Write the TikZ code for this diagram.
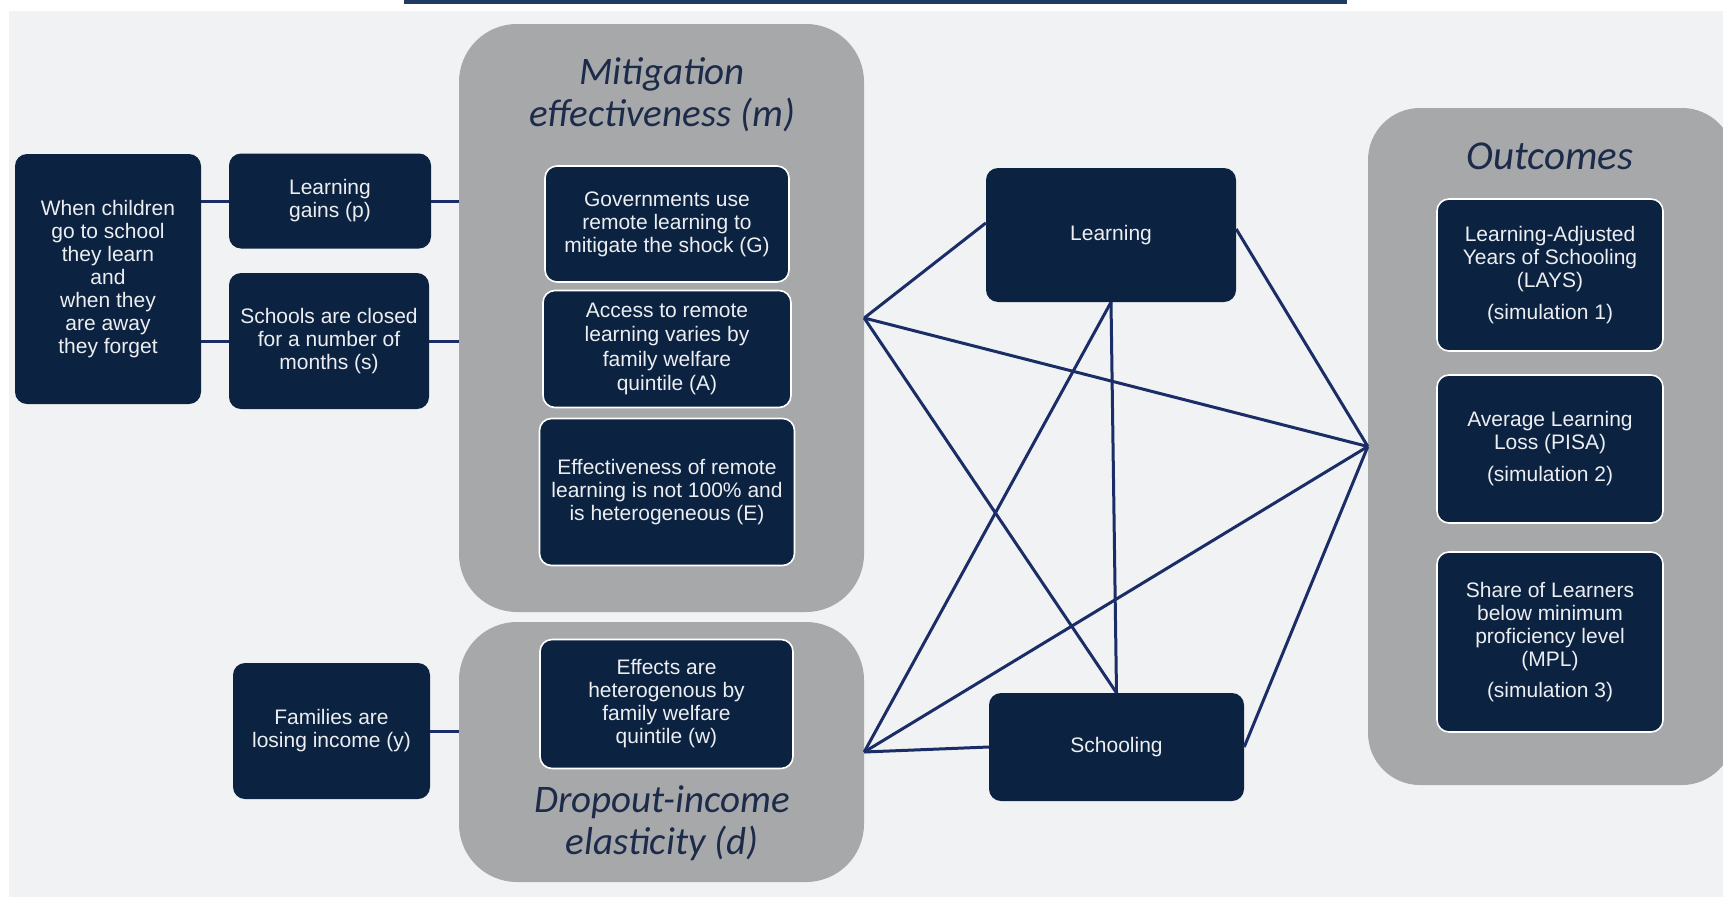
\documentclass[tikz,border=0pt]{standalone}
\usepackage{fontspec}
\setmainfont{Liberation Sans}
\newfontfamily\titlefont{Carlito}
\usepackage{tikz}
\usepackage{xcolor}
\tikzset{>=latex}
\usetikzlibrary{calc}

\definecolor{bgpanel}{HTML}{F1F2F4}
\definecolor{panelgrey}{HTML}{A7A8AA}
\definecolor{boxnavy}{HTML}{0B2240}
\definecolor{linknavy}{HTML}{1B2D66}
\definecolor{titlenavy}{HTML}{1C2B4A}
\definecolor{topbar}{HTML}{1F3A66}
\definecolor{boxtext}{HTML}{ECEEF2}

\tikzset{
  navybox/.style={fill=boxnavy, rounded corners=12pt, inner sep=0pt,
    text=boxtext, align=center, font=\fontsize{21}{23}\selectfont},
  inbox/.style={navybox, draw=white, line width=1.6pt},
  panel/.style={fill=panelgrey, rounded corners=58pt, inner sep=0pt},
  paneltitle/.style={text=titlenavy, align=center, inner sep=0pt,
    font=\titlefont\itshape\fontsize{39}{42}\selectfont},
  link/.style={draw=linknavy, line width=3pt}
}

\begin{document}
\begin{tikzpicture}[x=1pt, y=-1pt]
  \useasboundingbox (0, 0) rectangle (1723, 910);
  \clip (0, 0) rectangle (1723, 910);
  \fill[white] (0, 0) rectangle (1723, 910);
  \fill[bgpanel] (9, 11) rectangle (1723, 897);
  \fill[topbar] (404, 0) rectangle (1347, 4);

  % grey panels
  \node[panel, minimum width=405, minimum height=588] (mit) at (661.5, 318) {};
  \node[panel, minimum width=405, minimum height=260] (drop) at (661.5, 752) {};
  \node[panel, rounded corners=52pt, minimum width=366, minimum height=677] (out) at (1551, 446.5) {};
  \node[paneltitle] (mittitle) at (662, 95) {Mitigation\\effectiveness (m)};
  \node[paneltitle] (droptitle) at (662, 823) {Dropout-income\\elasticity (d)};
  \node[paneltitle, font=\titlefont\itshape\fontsize{41}{44}\selectfont] (outtitle) at (1550, 156) {Outcomes};

  % left column
  \node[navybox, minimum width=186, minimum height=250] (when) at (108, 279)
    {When children\\go to school\\they learn\\and\\when they\\are away\\they forget};
  \node[navybox, minimum width=202, minimum height=95] (gains) at (330, 201) {Learning\\gains (p)};
  \node[navybox, minimum width=200, minimum height=136] (closed) at (329, 341)
    {Schools are closed\\for a number of\\months (s)};
  \node[navybox, minimum width=197, minimum height=136] (fam) at (331.5, 731)
    {Families are\\losing income (y)};

  % inside the panels
  \node[inbox, minimum width=244, minimum height=116] (gov) at (667, 224)
    {Governments use\\remote learning to\\mitigate the shock (G)};
  \node[inbox, minimum width=248, minimum height=117, font=\fontsize{21}{24.5}\selectfont] (acc) at (667, 349)
    {Access to remote\\learning varies by\\family welfare\\quintile (A)};
  \node[inbox, minimum width=255, minimum height=147] (eff) at (667, 492)
    {Effectiveness of remote\\learning is not 100\% and\\is heterogeneous (E)};
  \node[inbox, minimum width=253, minimum height=129] (het) at (666.5, 704)
    {Effects are\\heterogenous by\\family welfare\\quintile (w)};

  % middle
  \node[navybox, minimum width=250, minimum height=134] (lrn) at (1111, 235) {Learning};
  \node[navybox, minimum width=255, minimum height=108] (schl) at (1116.5, 747) {Schooling};

  % outcomes
  \node[inbox, minimum width=226, minimum height=152] (lays) at (1550, 275)
    {Learning-Adjusted\\Years of Schooling\\(LAYS)\\[9pt](simulation 1)};
  \node[inbox, minimum width=226, minimum height=148] (pisa) at (1550, 449)
    {Average Learning\\Loss (PISA)\\[9pt](simulation 2)};
  \node[inbox, minimum width=226, minimum height=180] (mpl) at (1550, 642)
    {Share of Learners\\below minimum\\proficiency level\\(MPL)\\[8pt](simulation 3)};

  % connectors
  \draw[link] (when.east |- gains.west) -- (gains.west);
  \draw[link] (when.east |- closed.west) -- (closed.west);
  \draw[link] (gains.east) -- (gains.east -| mit.west);
  \draw[link] (closed.east) -- (closed.east -| mit.west);
  \draw[link] (fam.east) -- (fam.east -| drop.west);

  \draw[link] (mit.east) -- ([yshift=12pt]lrn.west);
  \draw[link] (mit.east) -- (schl.north);
  \draw[link] (mit.east) -- (out.west);
  \draw[link] (drop.east) -- (lrn.south);
  \draw[link] (drop.east) -- (schl.west);
  \draw[link] (drop.east) -- (out.west);
  \draw[link] (lrn.south) -- (schl.north);
  \draw[link] ([yshift=6pt]lrn.east) -- (out.west);
  \draw[link] (schl.east) -- (out.west);
\end{tikzpicture}
\end{document}
